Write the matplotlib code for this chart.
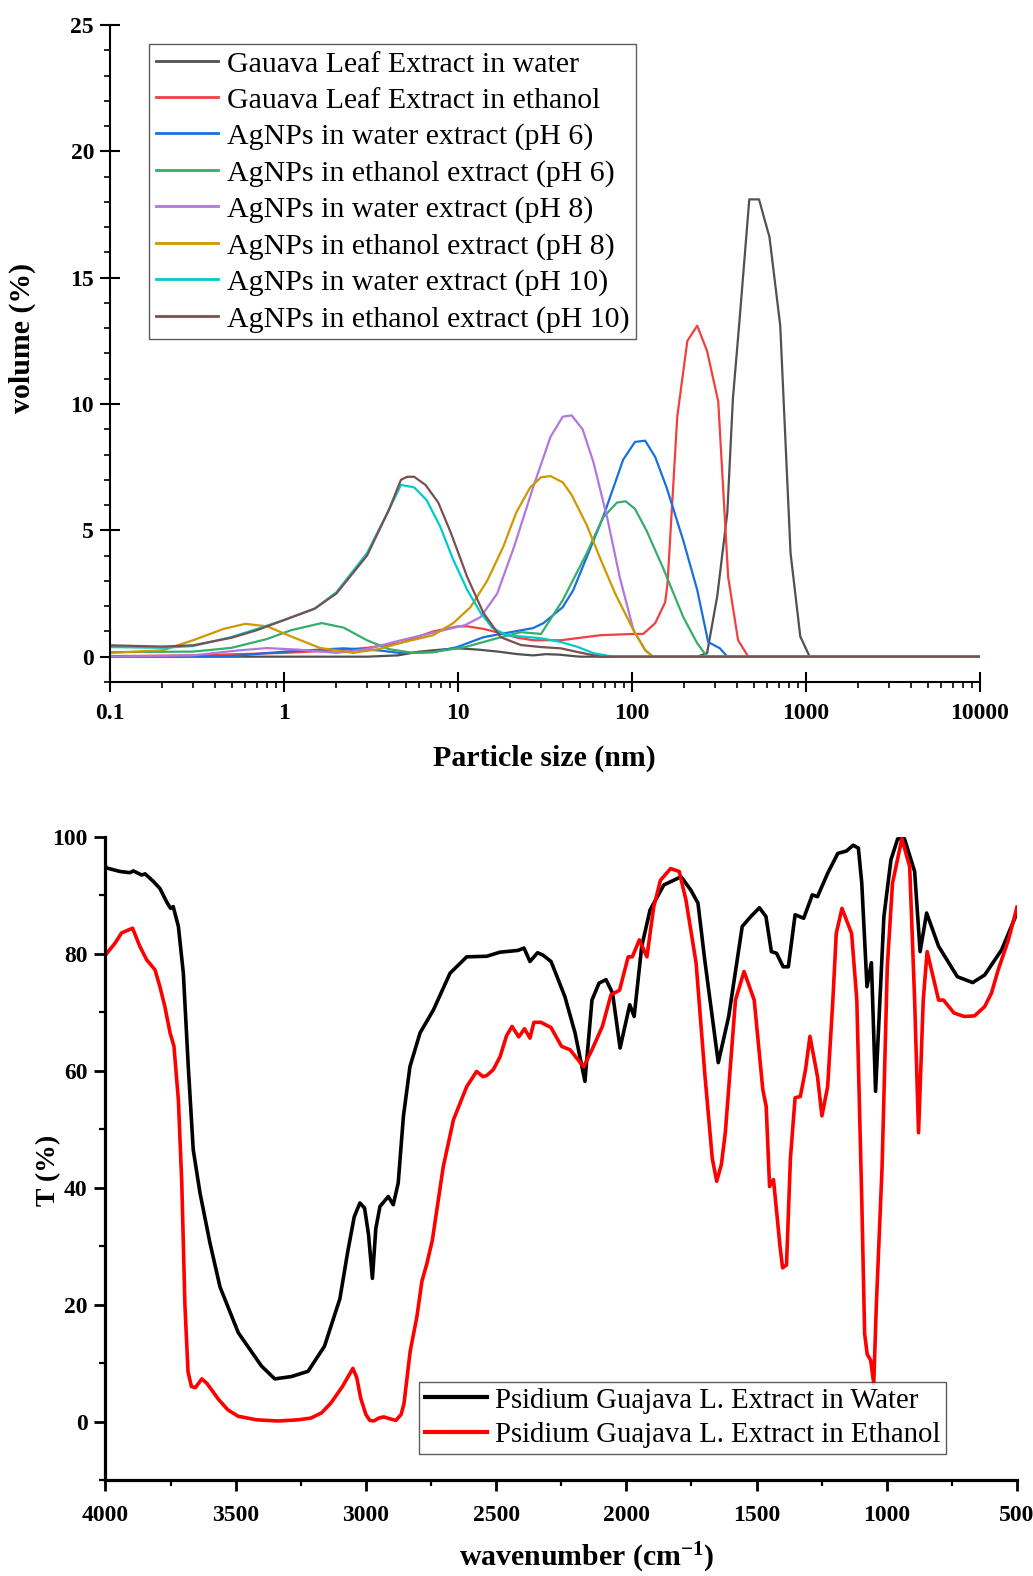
import matplotlib
matplotlib.use("Agg")
import matplotlib.pyplot as plt
from matplotlib.ticker import FixedLocator, MultipleLocator, LogLocator, NullFormatter

plt.rcParams["font.family"] = ["Liberation Serif", "DejaVu Serif"]
plt.rcParams["mathtext.fontset"] = "custom"
plt.rcParams["mathtext.rm"] = "Liberation Serif"
plt.rcParams["mathtext.bf"] = "Liberation Serif:bold"
plt.rcParams["mathtext.default"] = "bf"

# ---- particle size distribution (DLS) ----
dls_labels = [
    "Gauava Leaf Extract in water",
    "Gauava Leaf Extract in ethanol",
    "AgNPs in water extract (pH 6)",
    "AgNPs in ethanol extract (pH 6)",
    "AgNPs in water extract (pH 8)",
    "AgNPs in ethanol extract (pH 8)",
    "AgNPs in water extract (pH 10)",
    "AgNPs in ethanol extract (pH 10)",
]
dls_colors = ["#515151", "#F14040", "#1A6FDF", "#37AD6B",
              "#B177DE", "#CC9900", "#00CBCC", "#7D4E4E"]

leaf_water_x = [0.1, 1, 3, 4.5, 6, 8, 10, 13, 17, 22, 27, 32, 38, 50, 100, 200, 237,
                270, 309, 353, 380, 417, 472, 537, 617, 711, 815, 927, 1050, 10000]
leaf_water_y = [0, 0, 0, 0.05, 0.2, 0.28, 0.33, 0.28, 0.2, 0.1, 0.05, 0.1, 0.08, 0, 0, 0, 0,
                0.14, 2.4, 5.7, 10.2, 13.5, 18.1, 18.1, 16.6, 13.1, 4.1, 0.8, 0, 0]

leaf_eth_x = [0.1, 0.3, 1, 2, 3, 4.7, 7.2, 10, 11.3, 14, 17.6, 22, 27, 39, 66, 102, 116,
              136, 155, 160, 182, 208, 237, 270, 313, 357, 407, 466, 10000]
leaf_eth_y = [0.02, 0.05, 0.15, 0.25, 0.35, 0.55, 1.0, 1.2, 1.2, 1.1, 0.93, 0.75, 0.65, 0.65,
              0.85, 0.9, 0.9, 1.33, 2.15, 2.9, 9.5, 12.5, 13.1, 12.1, 10.1, 3.15, 0.65, 0, 0]

w6_x = [0.1, 0.5, 1, 2.2, 3.5, 4.7, 7.2, 9.9, 14, 20, 27, 31, 40, 46, 55, 68, 89, 104,
        119, 136, 158, 197, 237, 274, 320, 353, 10000]
w6_y = [0, 0.02, 0.2, 0.33, 0.25, 0.14, 0.18, 0.38, 0.77, 0.97, 1.13, 1.33, 1.96, 2.64,
        3.95, 5.5, 7.8, 8.5, 8.55, 7.9, 6.7, 4.6, 2.64, 0.58, 0.33, 0, 0]

e6_x = [0.1, 0.3, 0.5, 0.8, 1.1, 1.65, 2.2, 3, 4, 5.5, 7.2, 11, 17.6, 23, 30, 40, 55,
        68, 82, 92, 104, 121, 150, 197, 237, 270, 10000]
e6_y = [0.18, 0.2, 0.35, 0.7, 1.05, 1.33, 1.15, 0.65, 0.3, 0.15, 0.18, 0.38, 0.77, 0.97,
        0.9, 2.24, 4.1, 5.5, 6.1, 6.15, 5.85, 5.0, 3.55, 1.57, 0.53, 0, 0]

w8_x = [0.1, 0.3, 0.55, 0.8, 1.2, 2, 3, 4.7, 7.2, 11, 13.5, 16.8, 21, 27, 34, 40, 45,
        52, 60, 72, 85, 102, 119, 132, 10000]
w8_y = [0, 0.05, 0.25, 0.34, 0.28, 0.15, 0.3, 0.65, 0.95, 1.25, 1.57, 2.5, 4.35, 6.7,
        8.7, 9.5, 9.55, 9.0, 7.7, 5.5, 3.15, 1.05, 0.26, 0, 0]

e8_x = [0.1, 0.2, 0.3, 0.45, 0.6, 0.8, 1.1, 1.6, 2.5, 3.5, 4.7, 7.2, 9.4, 11.8, 14.7,
        18.2, 21.6, 26, 30, 34, 40, 45, 55, 66, 80, 102, 119, 132, 10000]
e8_y = [0.15, 0.25, 0.65, 1.1, 1.3, 1.2, 0.8, 0.35, 0.15, 0.3, 0.55, 0.85, 1.33, 1.96,
        3.0, 4.35, 5.7, 6.7, 7.1, 7.15, 6.9, 6.4, 5.2, 3.85, 2.5, 1.05, 0.26, 0, 0]

w10_x = [0.1, 0.2, 0.3, 0.5, 0.7, 1, 1.5, 2, 3, 4, 4.7, 5.6, 6.6, 7.9, 9.4, 11.3, 13.5,
         15.8, 19.2, 30, 39, 49, 60, 78, 10000]
w10_y = [0.38, 0.35, 0.42, 0.78, 1.1, 1.45, 1.9, 2.55, 4.1, 5.8, 6.8, 6.7, 6.2, 5.15,
         3.83, 2.64, 1.73, 1.13, 0.85, 0.73, 0.58, 0.38, 0.14, 0, 0]

e10_x = [0.1, 0.2, 0.3, 0.5, 0.7, 1, 1.5, 2, 3, 4, 4.7, 5.1, 5.6, 6.5, 7.7, 9.1, 11.3,
         14, 17.6, 23, 30, 39, 49, 66, 10000]
e10_y = [0.45, 0.4, 0.45, 0.75, 1.05, 1.45, 1.9, 2.5, 4.0, 5.8, 7.0, 7.12, 7.12, 6.8,
         6.1, 4.9, 3.15, 1.73, 0.77, 0.46, 0.38, 0.33, 0.18, 0, 0]

dls_series = [(leaf_water_x, leaf_water_y), (leaf_eth_x, leaf_eth_y), (w6_x, w6_y),
              (e6_x, e6_y), (w8_x, w8_y), (e8_x, e8_y), (w10_x, w10_y), (e10_x, e10_y)]

# ---- FTIR ----
ftir_labels = ["Psidium Guajava L. Extract in Water", "Psidium Guajava L. Extract in Ethanol"]

water_wn = [4000, 3995, 3944, 3906, 3893, 3861, 3848, 3816, 3791, 3765, 3750, 3740, 3720,
            3701, 3682, 3663, 3637, 3599, 3560, 3490, 3401, 3350, 3286, 3222, 3159, 3100,
            3070, 3045, 3023, 3005, 2990, 2975, 2962, 2946, 2914, 2895, 2876, 2856, 2831,
            2792, 2741, 2677, 2613, 2536, 2485, 2416, 2393, 2370, 2341, 2320, 2289, 2236,
            2197, 2159, 2132, 2105, 2078, 2053, 2024, 1987, 1970, 1941, 1909, 1856, 1790,
            1752, 1725, 1699, 1647, 1607, 1555, 1522, 1489, 1464, 1443, 1423, 1398, 1378,
            1352, 1319, 1286, 1266, 1227, 1188, 1155, 1129, 1109, 1096, 1076, 1059, 1043,
            1011, 984, 958, 932, 893, 872, 847, 801, 729, 670, 624, 559, 500]
water_t = [95.0, 94.7, 94.1, 93.9, 94.2, 93.5, 93.7, 92.4, 91.2, 88.9, 87.8, 88.1, 84.7,
           76.7, 60.7, 46.5, 39.1, 30.6, 23, 15.2, 9.5, 7.3, 7.7, 8.6, 12.9, 21,
           29, 35, 37.4, 36.5, 32, 24.5, 33, 36.8, 38.5, 37.1, 40.8, 52.2, 60.7,
           66.5, 70.4, 76.7, 79.5, 79.6, 80.3, 80.6, 81.0, 78.7, 80.2, 79.8, 78.7, 72.7,
           66.5, 58.2, 72.1, 75, 75.6, 73.3, 63.9, 71.3, 69.3, 81.3, 87.5, 91.8, 93.2,
           90.9, 88.7, 79, 61.4, 69.3, 84.7, 86.4, 87.9, 86.4, 80.4, 80.1, 77.8, 77.8,
           86.7, 86.1, 90.1, 89.8, 93.8, 97.2, 97.6, 98.6, 98.1, 92.1, 74.4, 78.5, 56.5,
           86.4, 96.1, 99.7, 99.7, 94.1, 80.4, 87, 81.3, 76.1, 75.1, 76.4, 80.7, 87]

ethanol_wn = [4000, 3995, 3964, 3938, 3912, 3896, 3868, 3842, 3810, 3791, 3772, 3752, 3737,
              3720, 3707, 3695, 3683, 3670, 3655, 3630, 3610, 3566, 3530, 3490, 3420, 3338,
              3260, 3211, 3170, 3134, 3090, 3050, 3035, 3020, 3000, 2985, 2970, 2950, 2931,
              2910, 2885, 2865, 2854, 2830, 2804, 2785, 2766, 2745, 2703, 2664, 2613, 2575,
              2550, 2536, 2511, 2485, 2460, 2439, 2413, 2391, 2370, 2355, 2328, 2289, 2249,
              2216, 2164, 2132, 2092, 2059, 2026, 1993, 1977, 1950, 1921, 1895, 1869, 1830,
              1797, 1771, 1732, 1699, 1670, 1653, 1635, 1620, 1581, 1548, 1509, 1476, 1463,
              1450, 1435, 1410, 1400, 1385, 1370, 1352, 1332, 1312, 1295, 1266, 1249, 1227,
              1207, 1194, 1172, 1135, 1115, 1096, 1085, 1075, 1062, 1050, 1040, 1018, 998,
              978, 942, 912, 893, 878, 860, 845, 801, 782, 742, 703, 663, 624, 598, 572,
              533, 500]
ethanol_t = [79.8, 80.1, 81.8, 83.6, 84.1, 84.4, 81.3, 79, 77.3, 74.4, 71, 66.5, 64.2,
             55, 40.8, 20, 8.5, 6, 5.8, 7.3, 6.5, 3.8, 2, 0.9, 0.3, 0.1,
             0.3, 0.6, 1.5, 3.2, 6, 9.1, 7.5, 4, 1.2, 0.2, 0.1, 0.6, 0.8,
             0.5, 0.2, 1.2, 3, 12, 18, 24, 27, 31, 43.6, 51.6, 57.3, 59.9,
             59, 59.2, 60.2, 62.4, 66, 67.6, 65.8, 67.2, 65.6, 68.3, 68.3, 67.4, 64.2,
             63.6, 60.7, 63.6, 67.6, 73, 73.8, 79.5, 79.5, 82.4, 79.5, 88, 92.6, 94.6,
             94.1, 89.2, 78.4, 59.6, 45, 41.1, 44, 49.4, 72.1, 77, 72.1, 56.8, 53.9,
             40.2, 41.4, 30, 26.3, 26.8, 45, 55.4, 55.6, 60.2, 65.9, 59, 52.3, 57.3,
             72.1, 83.5, 87.8, 83.5, 72.1, 37.9, 15, 11.5, 10.5, 6.5, 20, 43.6, 77.8,
             92.1, 99.7, 94.9, 72.1, 49.4, 72.1, 80.4, 72.1, 72.1, 69.9, 69.3, 69.4, 71, 73.3, 77.3,
             82.4, 88]

fig = plt.figure(figsize=(10.33, 15.76), dpi=100)

# ---------- top panel ----------
ax1 = fig.add_axes([0.1065, 0.5673, 0.8422, 0.4168])
for (xs, ys), lab, col in zip(dls_series, dls_labels, dls_colors):
    ax1.plot(xs, ys, color=col, lw=1.6, label=lab)
ax1.set_xscale("log")
ax1.set_xlim(0.1, 10000)
ax1.set_ylim(-1, 25)
ax1.set_xticks([0.1, 1, 10, 100, 1000, 10000])
ax1.set_xticklabels(["0.1", "1", "10", "100", "1000", "10000"])
ax1.xaxis.set_minor_locator(LogLocator(base=10, subs=range(2, 10), numticks=20))
ax1.xaxis.set_minor_formatter(NullFormatter())
ax1.yaxis.set_major_locator(FixedLocator([0, 5, 10, 15, 20, 25]))
ax1.yaxis.set_minor_locator(MultipleLocator(1))
for s in ["top", "right"]:
    ax1.spines[s].set_visible(False)
for s in ["left", "bottom"]:
    ax1.spines[s].set_linewidth(1.5)
ax1.tick_params(which="major", direction="inout", length=15, width=1.5,
                labelsize=17, pad=4)
ax1.tick_params(axis="x", which="major", pad=7.5)
ax1.tick_params(which="minor", direction="out", length=4.5, width=1.2)
for t in ax1.get_xticklabels() + ax1.get_yticklabels():
    t.set_fontweight("bold")
ax1.set_xlabel("Particle size (nm)", fontsize=21.5, fontweight="bold")
ax1.set_ylabel("volume (%)", fontsize=21.5, fontweight="bold")
ax1.xaxis.set_label_coords(0.499, -0.096)
ax1.yaxis.set_label_coords(-0.085, 0.524)
leg1 = ax1.legend(loc="upper left", bbox_to_anchor=(0.0448, 0.971), fontsize=21.5,
                  frameon=True, fancybox=False, edgecolor="#333333", handlelength=2.1,
                  handletextpad=0.3, labelspacing=0.31, borderpad=0.22, borderaxespad=0)
leg1.get_frame().set_linewidth(1.0)
for ln in leg1.get_lines():
    ln.set_linewidth(2.0)

# ---------- bottom panel ----------
ax2 = fig.add_axes([0.1021, 0.0609, 0.8824, 0.4080])
ax2.plot(water_wn, water_t, color="black", lw=2.6, label=ftir_labels[0])
ax2.plot(ethanol_wn, ethanol_t, color="#FF0000", lw=2.6, label=ftir_labels[1])
ax2.set_xlim(4000, 500)
ax2.set_ylim(-10, 100)
ax2.xaxis.set_major_locator(MultipleLocator(500))
ax2.xaxis.set_minor_locator(MultipleLocator(250))
ax2.yaxis.set_major_locator(FixedLocator([0, 20, 40, 60, 80, 100]))
ax2.yaxis.set_minor_locator(MultipleLocator(10))
for s in ["top", "right"]:
    ax2.spines[s].set_visible(False)
for s in ["left", "bottom"]:
    ax2.spines[s].set_linewidth(2.3)
ax2.tick_params(which="major", direction="out", length=8, width=2.0,
                labelsize=17, pad=5)
ax2.tick_params(axis="x", which="major", pad=10)
ax2.tick_params(which="minor", direction="out", length=4, width=1.6)
for t in ax2.get_xticklabels() + ax2.get_yticklabels():
    t.set_fontweight("bold")
ax2.set_xlabel("wavenumber (cm$^{-1}$)", fontsize=21.5, fontweight="bold")
ax2.set_ylabel("T (%)", fontsize=20, fontweight="bold")
ax2.xaxis.set_label_coords(0.528, -0.095)
ax2.yaxis.set_label_coords(-0.049, 0.482)
leg2 = ax2.legend(loc="lower left", bbox_to_anchor=(0.344, 0.0404), fontsize=20.7,
                  frameon=True, fancybox=False, edgecolor="#333333", handlelength=2.15,
                  handletextpad=0.28, labelspacing=0.3, borderpad=0.2, borderaxespad=0)
leg2.get_frame().set_linewidth(1.0)
for ln in leg2.get_lines():
    ln.set_linewidth(3.0)

fig.savefig("out.png", dpi=100)
